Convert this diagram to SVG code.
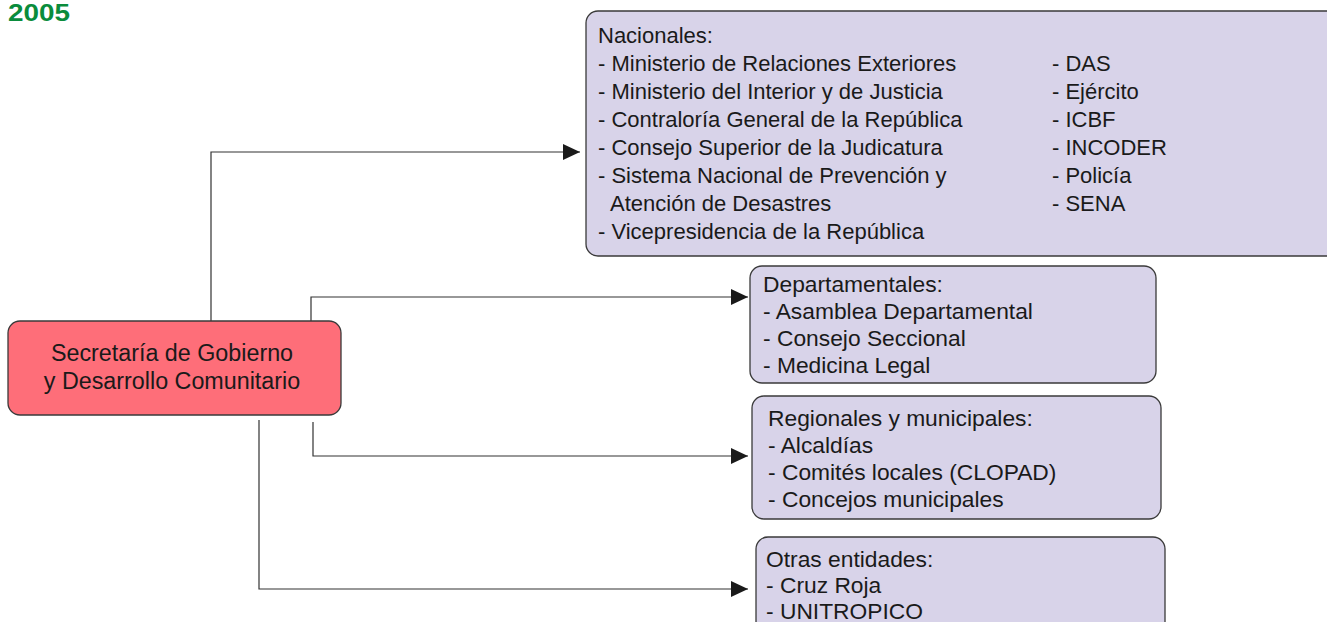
<svg xmlns="http://www.w3.org/2000/svg" width="1327" height="622" viewBox="0 0 1327 622">
<style>
.box{fill:#d8d3e9;stroke:#3a3a3a;stroke-width:1.3}
.main{fill:#fe6e79;stroke:#3a3a3a;stroke-width:1.3}
.t{font-family:"Liberation Sans",Arial,sans-serif;font-size:22px;fill:#1a1a1a}
.s{font-size:22.8px}
.c{fill:none;stroke:#333;stroke-width:1.2}
</style>
<defs>
<marker id="ah" markerUnits="userSpaceOnUse" markerWidth="18" markerHeight="16" refX="17" refY="8" orient="auto">
<path d="M0,0 L17,8 L0,16 Z" fill="#1a1a1a"/>
</marker>
</defs>
<rect width="1327" height="622" fill="#fff"/>
<text x="8" y="21" textLength="62" lengthAdjust="spacingAndGlyphs" style="font-family:'Liberation Sans',Arial,sans-serif;font-size:24px;font-weight:bold;fill:#0a8c3c">2005</text>
<g id="connectors">
<path class="c" d="M211,321 V152 H580" marker-end="url(#ah)"/>
<path class="c" d="M311,321 V297 H748" marker-end="url(#ah)"/>
<path class="c" d="M313,422 V456 H748" marker-end="url(#ah)"/>
<path class="c" d="M259,420 V589 H748" marker-end="url(#ah)"/>
</g>
<g id="main">
<rect class="main" x="8" y="321" width="333" height="94" rx="12"/>
<text class="t" x="172" y="361" text-anchor="middle" style="font-size:23.3px">Secretaría de Gobierno</text>
<text class="t" x="172" y="389" text-anchor="middle" style="font-size:23.3px">y Desarrollo Comunitario</text>
</g>
<g id="nacionales">
<rect class="box" x="586" y="11" width="760" height="245" rx="12"/>
<text class="t" x="598" y="43">Nacionales:</text>
<text class="t" x="598" y="71">- Ministerio de Relaciones Exteriores</text>
<text class="t" x="598" y="99">- Ministerio del Interior y de Justicia</text>
<text class="t" x="598" y="127">- Contraloría General de la República</text>
<text class="t" x="598" y="155">- Consejo Superior de la Judicatura</text>
<text class="t" x="598" y="183">- Sistema Nacional de Prevención y</text>
<text class="t" x="610" y="211">Atención de Desastres</text>
<text class="t" x="598" y="239">- Vicepresidencia de la República</text>
<text class="t" x="1052" y="71">- DAS</text>
<text class="t" x="1052" y="99">- Ejército</text>
<text class="t" x="1052" y="127">- ICBF</text>
<text class="t" x="1052" y="155">- INCODER</text>
<text class="t" x="1052" y="183">- Policía</text>
<text class="t" x="1052" y="211">- SENA</text>
</g>
<g id="departamentales">
<rect class="box" x="750" y="266" width="406" height="117" rx="12"/>
<text class="t s" x="763" y="292">Departamentales:</text>
<text class="t s" x="763" y="319">- Asamblea Departamental</text>
<text class="t s" x="763" y="346">- Consejo Seccional</text>
<text class="t s" x="763" y="373">- Medicina Legal</text>
</g>
<g id="regionales">
<rect class="box" x="752" y="396" width="409" height="123" rx="12"/>
<text class="t s" x="768" y="426">Regionales y municipales:</text>
<text class="t s" x="768" y="453">- Alcaldías</text>
<text class="t s" x="768" y="480">- Comités locales (CLOPAD)</text>
<text class="t s" x="768" y="507">- Concejos municipales</text>
</g>
<g id="otras">
<rect class="box" x="756" y="537" width="409" height="110" rx="12"/>
<text class="t s" x="766" y="567">Otras entidades:</text>
<text class="t s" x="766" y="593">- Cruz Roja</text>
<text class="t s" x="766" y="619">- UNITROPICO</text>
</g>
</svg>
